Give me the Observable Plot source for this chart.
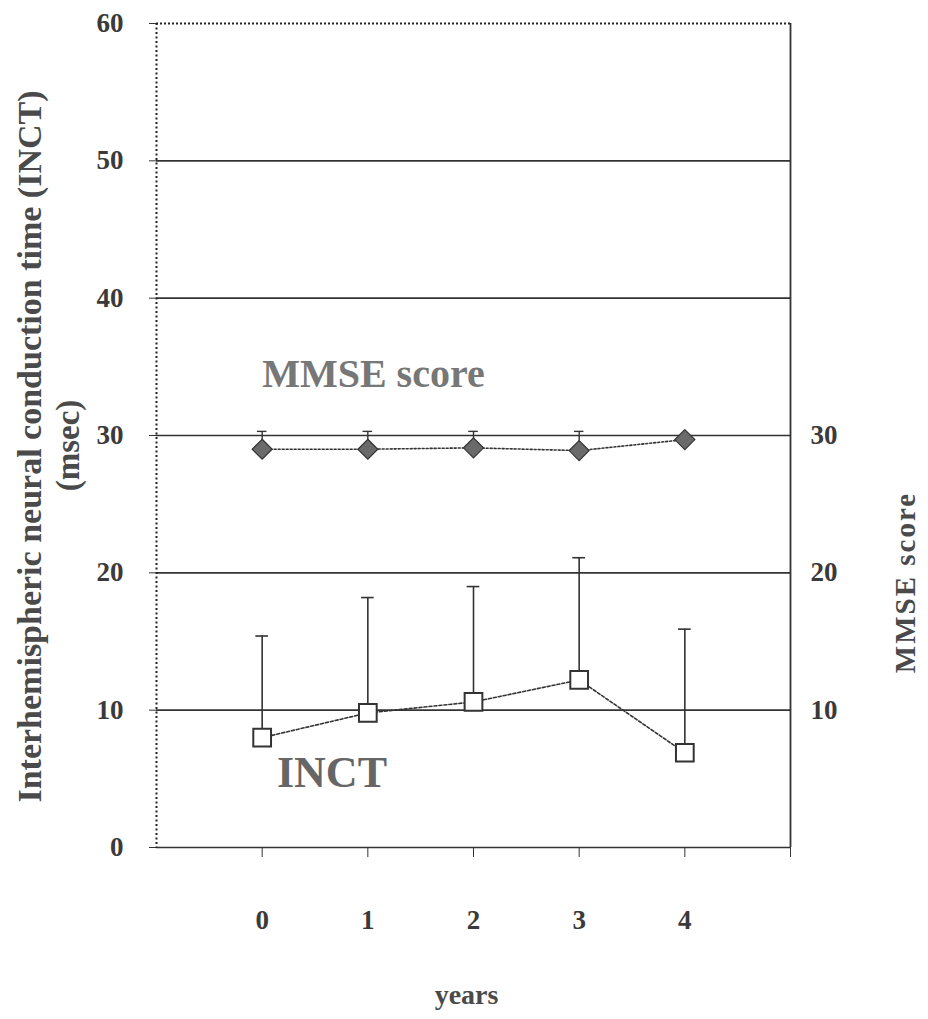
<!DOCTYPE html>
<html>
<head>
<meta charset="utf-8">
<script src="https://cdn.jsdelivr.net/npm/d3@7"></script>
<script src="https://cdn.jsdelivr.net/npm/@observablehq/plot@0.6"></script>
<style>
  html, body { margin: 0; padding: 0; background: #fff; }
  #chart svg { display: block; font-family: "Liberation Serif", "DejaVu Serif", serif; }
</style>
</head>
<body>
<div id="chart"></div>
<script>
// ---- data ----
const years      = [0, 1, 2, 3, 4];
const yearTicks  = [0, 1, 2, 3, 4, 5];
const inct       = [8.0, 9.8, 10.6, 12.2, 6.9];
const inctUpper  = [15.4, 18.2, 19.0, 21.1, 15.9];
const mmse       = [29.0, 29.0, 29.1, 28.9, 29.7];
const mmseUpper  = [30.3, 30.3, 30.3, 30.3, null];
const leftTicks  = [0, 10, 20, 30, 40, 50, 60];
const rightTicks = [10, 20, 30];
const gridLines  = [10, 20, 30, 40, 50];

const inctData = years.map((y, i) => ({year: y, value: inct[i], upper: inctUpper[i]}));
const mmseData = years.map((y, i) => ({year: y, value: mmse[i], upper: mmseUpper[i]}));
const mmseBars = mmseData.filter(d => d.upper != null);

const FONT = '"Liberation Serif", "DejaVu Serif", serif';

const chart = Plot.plot({
  width: 928,
  height: 1019,
  marginLeft: 156,
  marginRight: 138,
  marginTop: 23,
  marginBottom: 172,
  style: {fontFamily: FONT, background: "#fff"},
  x: {domain: [-1, 5], axis: null},
  y: {domain: [0, 60], axis: null},
  marks: [
    // grid
    Plot.ruleY(gridLines, {stroke: "#333", strokeWidth: 1.6}),
    Plot.ruleY([60], {stroke: "#222", strokeWidth: 2, strokeDasharray: "2,2"}),
    Plot.ruleY([0], {stroke: "#333", strokeWidth: 1.6}),
    Plot.ruleX([-1], {stroke: "#222", strokeWidth: 2, strokeDasharray: "2,2.5"}),
    Plot.ruleX([5], {stroke: "#333", strokeWidth: 1.8}),
    // left axis
    Plot.axisY(leftTicks, {
      anchor: "left", tickSize: 7, tickPadding: 26, stroke: "#333",
      fontSize: 27, fontWeight: "bold", fill: "#3a3a3a", label: null
    }),
    // right axis
    Plot.axisY(rightTicks, {
      anchor: "right", tickSize: 0, tickPadding: 20,
      fontSize: 27, fontWeight: "bold", fill: "#3a3a3a", label: null
    }),
    // bottom axis
    Plot.axisX(yearTicks, {
      anchor: "bottom", tickSize: 10, tickPadding: 52, stroke: "#333",
      tickFormat: d => (d <= 4 ? String(d) : ""),
      fontSize: 27, fontWeight: "bold", fill: "#3a3a3a", label: null
    }),
    // INCT error bars
    Plot.ruleX(inctData, {x: "year", y1: "value", y2: "upper", stroke: "#333", strokeWidth: 1.6}),
    Plot.ruleY(inctData, {y: "upper", x1: d => d.year - 0.06, x2: d => d.year + 0.06, stroke: "#333", strokeWidth: 1.6}),
    // MMSE error bars
    Plot.ruleX(mmseBars, {x: "year", y1: "value", y2: "upper", stroke: "#333", strokeWidth: 1.4}),
    Plot.ruleY(mmseBars, {y: "upper", x1: d => d.year - 0.045, x2: d => d.year + 0.045, stroke: "#333", strokeWidth: 1.4}),
    // lines
    Plot.line(inctData, {x: "year", y: "value", stroke: "#333", strokeWidth: 1.6, strokeDasharray: "3,2"}),
    Plot.line(mmseData, {x: "year", y: "value", stroke: "#333", strokeWidth: 1.6, strokeDasharray: "2,2"}),
    // markers
    Plot.dot(inctData, {x: "year", y: "value", symbol: "square", r: 10, fill: "#fff", stroke: "#333", strokeWidth: 2}),
    Plot.dot(mmseData, {x: "year", y: "value", symbol: "diamond2", r: 9, fill: "#6a6a6a", stroke: "#333", strokeWidth: 1.2}),
    // annotations
    Plot.text(["MMSE score"], {x: 0, y: 33.5, textAnchor: "start", lineAnchor: "bottom",
      fontSize: 40, fill: "#777", fontWeight: "bold"}),
    Plot.text(["INCT"], {x: 0.14, y: 4.4, textAnchor: "start", lineAnchor: "bottom",
      fontSize: 44, fill: "#666", fontWeight: "bold"}),
    // axis titles
    Plot.text(["Interhemispheric neural conduction time (INCT)"], {
      frameAnchor: "left", dx: -126, dy: 11, rotate: -90, textAnchor: "middle",
      fontSize: 34, fontWeight: "bold", fill: "#4a4a4a"
    }),
    Plot.text(["(msec)"], {
      frameAnchor: "left", dx: -88, dy: 10, rotate: -90, textAnchor: "middle",
      fontSize: 33, fontWeight: "bold", fill: "#4a4a4a"
    }),
    Plot.text(["MMSE score"], {
      frameAnchor: "right", dx: 115, dy: 147, rotate: -90, textAnchor: "middle",
      fontSize: 29, fontWeight: "bold", fill: "#4a4a4a"
    }),
    Plot.text(["years"], {
      frameAnchor: "bottom", dx: -7, dy: 156, textAnchor: "middle",
      fontSize: 28, fontWeight: "bold", fill: "#4a4a4a"
    })
  ]
});

// widen the right-hand axis title a little, as in the reference
d3.select(chart).selectAll("g[font-size='29'] text").attr("letter-spacing", "2px");

document.getElementById("chart").appendChild(chart);
</script>
</body>
</html>
